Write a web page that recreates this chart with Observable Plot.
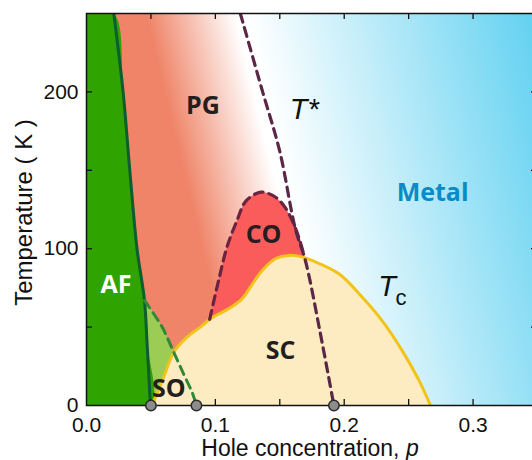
<!DOCTYPE html>
<html>
<head>
<meta charset="utf-8">
<script src="https://cdn.jsdelivr.net/npm/d3@7"></script>
<script src="https://cdn.jsdelivr.net/npm/@observablehq/plot@0.6"></script>
<style>
  html, body { margin: 0; padding: 0; background: #fff; overflow: hidden; }
  #chart { width: 532px; height: 460px; overflow: hidden; }
  #chart svg { max-width: none !important; display: block; }
</style>
</head>
<body>
<div id="chart"></div>
<script>
// Phase boundaries of the hole-doped cuprates: [hole concentration p, temperature K]
const afLine = [[0.0212, 250], [0.0284, 200], [0.0336, 150], [0.0392, 100], [0.0450, 67], [0.0470, 40], [0.0496, 0]];
const soLine = [[0.0450, 67], [0.0587, 50], [0.0677, 34], [0.0754, 20], [0.0819, 8.5], [0.0853, 0]];
const scDome = [[0.0510, 0], [0.0599, 18], [0.0677, 34], [0.0780, 43.6], [0.0884, 50], [0.0974, 56],
  [0.1103, 61.7], [0.1207, 68], [0.1297, 78.6], [0.1362, 86], [0.1465, 93.6], [0.1568, 95.7],
  [0.1672, 94.8], [0.1750, 92.5], [0.1959, 84], [0.2140, 69], [0.2295, 54], [0.2450, 35],
  [0.2580, 16], [0.2670, 0]];
const coLine = [[0.0956, 55], [0.1026, 80], [0.1090, 101], [0.1168, 118], [0.1233, 130], [0.1323, 135.4],
  [0.1375, 136], [0.1465, 133], [0.1540, 126.5], [0.1607, 116], [0.1660, 104], [0.1690, 95]];
const tStarLine = [[0.1194, 250], [0.1360, 202], [0.1500, 162], [0.1620, 113], [0.1700, 92], [0.1810, 48], [0.1920, 0]];

// Critical points on the p axis
const criticalP = [0.050, 0.0853, 0.192];

// Region names
const regionNames = ["PG", "CO", "AF", "SC", "SO", "Metal"];
const regionP = [0.0903, 0.1374, 0.0229, 0.1507, 0.0638, 0.2686];
const regionT = [190.7, 108.9, 77, 35, 10.8, 135.8];
const regionColors = ["#231f20", "#231f20", "#ffffff", "#231f20", "#231f20", "#0b8bc6"];

// Axes
const xDomain = [0, 0.35];
const yDomain = [0, 250];
const xTickValues = [0, 0.1, 0.2, 0.3];
const xMinorTicks = [0.05, 0.1, 0.15, 0.2, 0.25, 0.3];
const yTickValues = [0, 100, 200];
const yMinorTicks = [50, 100, 150, 200];

const pt = d => ({p: d[0], T: d[1]});

// Closed outlines built from the boundaries
const pgPoly = [...afLine, ...tStarLine.slice().reverse()].map(pt);
const afPoly = [[0, yDomain[1]], ...afLine, [0, 0]].map(pt);
const soPoly = [soLine[0], ...afLine.filter(d => d[1] < soLine[0][1]), ...soLine.slice().reverse()].map(pt);
const coEnd = coLine[coLine.length - 1][0];
const coPoly = [...coLine, ...scDome.filter(d => d[0] > coLine[0][0] && d[0] < coEnd).reverse()].map(pt);

const labels = regionNames.map((name, i) => ({name, p: regionP[i], T: regionT[i], color: regionColors[i]}));

const boldFont = "'Open Sans', 'DejaVu Sans', sans-serif";
const axisFont = "'Liberation Sans', Arial, sans-serif";
const ink = "#111";

const chart = Plot.plot({
  width: 538,
  height: 460,
  marginLeft: 86,
  marginRight: 1,
  marginTop: 13,
  marginBottom: 55,
  style: {fontFamily: axisFont, fontSize: "21px", color: ink, background: "#fff", maxWidth: "none"},
  x: {domain: xDomain, ticks: xTickValues, tickFormat: ".1f", tickSize: 0, tickPadding: 12, label: null},
  y: {domain: yDomain, ticks: yTickValues, tickSize: 0, tickPadding: 8, label: null},
  marks: [
    Plot.frame({fill: "url(#metal-fill)", stroke: "none"}),
    Plot.line(pgPoly, {x: "p", y: "T", curve: "catmull-rom", fill: "url(#pg-fill)", stroke: "none", clip: true}),
    Plot.line(soPoly, {x: "p", y: "T", curve: "catmull-rom", fill: "#9dcc55", stroke: "none", clip: true}),
    Plot.line(afPoly, {x: "p", y: "T", curve: "catmull-rom", fill: "#2fa300", stroke: "none", clip: true}),
    Plot.line(coPoly, {x: "p", y: "T", curve: "catmull-rom", fill: "#fa5c5c", stroke: "none", clip: true}),
    Plot.line(scDome.map(pt), {x: "p", y: "T", curve: "catmull-rom", fill: "#fdecc2", stroke: "none", clip: true}),
    Plot.line(scDome.map(pt), {x: "p", y: "T", curve: "catmull-rom", stroke: "#f2c318", strokeWidth: 3, clip: true}),
    Plot.line(afLine.map(pt), {x: "p", y: "T", curve: "catmull-rom", stroke: "#0b5e2e", strokeWidth: 3, clip: true}),
    Plot.line(soLine.map(pt), {x: "p", y: "T", curve: "catmull-rom", stroke: "#2e8a36", strokeWidth: 3, strokeDasharray: "9,6", clip: true}),
    Plot.line(coLine.map(pt), {x: "p", y: "T", curve: "catmull-rom", stroke: "#6b2340", strokeWidth: 3.2, strokeDasharray: "9,6", clip: true}),
    Plot.line(tStarLine.map(pt), {x: "p", y: "T", curve: "catmull-rom", stroke: "#5a2746", strokeWidth: 3.2, strokeDasharray: "9,6", clip: true}),
    // frame and inward ticks
    Plot.frame({stroke: ink, strokeWidth: 1.5}),
    Plot.ruleX(xMinorTicks, {x: d => d, y1: yDomain[0], y2: yDomain[0], insetTop: -6, stroke: ink, strokeWidth: 1.3}),
    Plot.ruleX(xMinorTicks, {x: d => d, y1: yDomain[1], y2: yDomain[1], insetBottom: -6, stroke: ink, strokeWidth: 1.3}),
    Plot.ruleY(yMinorTicks, {y: d => d, x1: xDomain[0], x2: xDomain[0], insetRight: -6, stroke: ink, strokeWidth: 1.3}),
    Plot.ruleY(yMinorTicks, {y: d => d, x1: xDomain[1], x2: xDomain[1], insetLeft: -6, stroke: ink, strokeWidth: 1.3}),
    // critical points
    Plot.dot(criticalP, {x: d => d, y: () => 0, r: 5.2, fill: "#8c8c8c", stroke: "#2b2b2b", strokeWidth: 1.5}),
    // region names
    Plot.text(labels, {x: "p", y: "T", text: "name", fill: "color", fontFamily: boldFont, fontWeight: 700, fontSize: 25}),
    Plot.text(["T*"], {x: () => 0.169, y: () => 188.8, fontFamily: axisFont, fontStyle: "italic", fontSize: 29, fill: ink}),
    Plot.text(["T"], {x: () => 0.2333, y: () => 76, fontFamily: axisFont, fontStyle: "italic", fontSize: 29, fill: ink}),
    Plot.text(["c"], {x: () => 0.2333, y: () => 76, dx: 14, dy: 12, fontFamily: axisFont, fontSize: 22, fill: ink}),
    // axis titles
    Plot.text(["Temperature ( K )"], {frameAnchor: "left", textAnchor: "middle", lineAnchor: "middle", rotate: -90, dx: -62, dy: 3, fontFamily: axisFont, fontSize: 24, fill: ink}),
    Plot.text(["Hole concentration,"], {frameAnchor: "bottom", textAnchor: "end", lineAnchor: "middle", dx: 87.5, dy: 43, fontFamily: axisFont, fontSize: 23, fill: ink}),
    Plot.text(["p"], {frameAnchor: "bottom", textAnchor: "start", lineAnchor: "middle", dx: 94, dy: 43, fontFamily: axisFont, fontStyle: "italic", fontSize: 23, fill: ink})
  ]
});

// Gradients oriented across the T* crossover line
const sx = chart.scale("x"), sy = chart.scale("y");
const a = tStarLine[0], b = tStarLine[tStarLine.length - 1];
const ax = sx.apply(a[0]), ay = sy.apply(a[1]);
const bx = sx.apply(b[0]), by = sy.apply(b[1]);
const len = Math.hypot(bx - ax, by - ay);
const nx = (by - ay) / len, ny = -(bx - ax) / len;
const at = k => [ax + nx * k, ay + ny * k];

const defs = d3.select(chart).insert("defs", ":first-child");
function gradient(id, from, to, stops) {
  const g = defs.append("linearGradient").attr("id", id).attr("gradientUnits", "userSpaceOnUse")
    .attr("x1", from[0]).attr("y1", from[1]).attr("x2", to[0]).attr("y2", to[1]);
  stops.forEach(([o, c]) => g.append("stop").attr("offset", o).attr("stop-color", c));
}
gradient("metal-fill", at(6), at(300), [[0, "#ffffff"], [1, "#5acff0"]]);
gradient("pg-fill", at(-92), at(-5), [[0, "#ef8468"], [1, "#ffffff"]]);

document.getElementById("chart").appendChild(chart);
</script>
</body>
</html>
